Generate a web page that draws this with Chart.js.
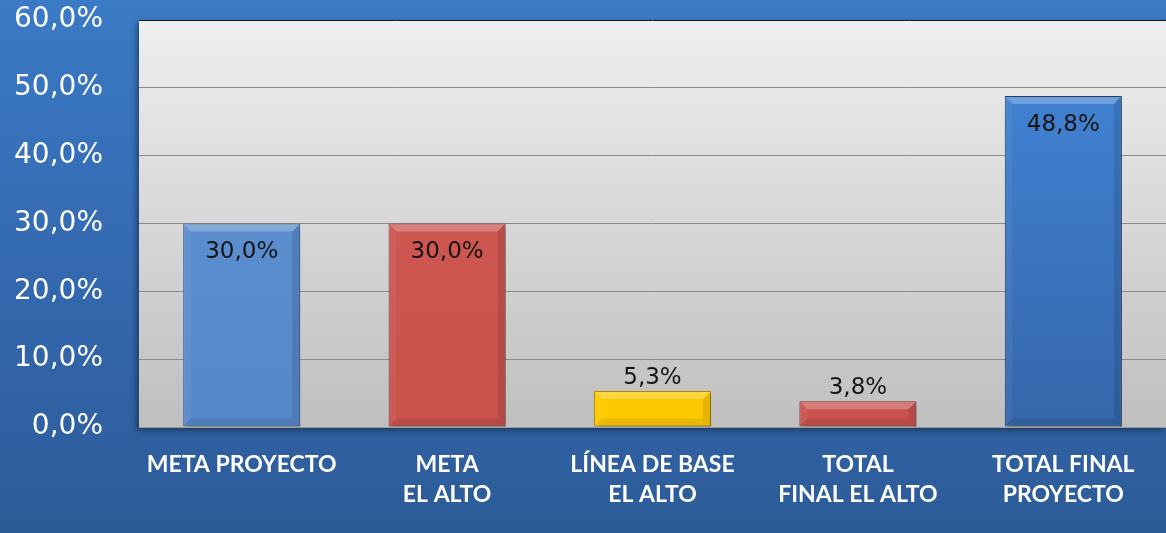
<!DOCTYPE html>
<html>
<head>
<meta charset="utf-8">
<script src="https://cdn.jsdelivr.net/npm/chart.js@4/dist/chart.umd.min.js"></script>
<style>
  html, body { margin: 0; padding: 0; }
  body {
    width: 1166px;
    height: 533px;
    overflow: hidden;
    background: linear-gradient(to bottom, #3b7ac5 0%, #3469b0 50%, #2d5b98 100%);
  }
  canvas { display: block; }
</style>
</head>
<body>
<canvas id="metaChart" width="1166" height="533"></canvas>
<script>
const categories = [
    'META PROYECTO',
    ['META', 'EL ALTO'],
    ['LÍNEA DE BASE', 'EL ALTO'],
    ['TOTAL', 'FINAL EL ALTO'],
    ['TOTAL FINAL', 'PROYECTO']
];
const values = [30.0, 30.0, 5.3, 3.8, 48.8];
const yTickValues = [0, 10, 20, 30, 40, 50, 60];

// fill / edge colour per bar
const barFills = [
    ['#6093d5', '#5588c9'],
    ['#d35b56', '#c9524d'],
    ['#ffd20f', '#fcc900'],
    ['#d35b56', '#c9524d'],
    ['#4387da', '#3566aa']
];
const barEdges = ['#3d6599', '#8f3532', '#b88f00', '#8f3532', '#1f3f6b'];

const pct = v => v.toFixed(1).replace('.', ',') + '%';

// grey plot background with a soft shadow, drawn before the grid
const plotBackground = {
    id: 'plotBackground',
    beforeDraw(chart) {
        const { ctx, chartArea: a } = chart;
        ctx.save();
        ctx.shadowColor = 'rgba(0,0,0,0.45)';
        ctx.shadowBlur = 6;
        ctx.shadowOffsetX = -2;
        ctx.shadowOffsetY = 3;
        const g = ctx.createLinearGradient(0, a.top, 0, a.bottom);
        g.addColorStop(0, '#efefef');
        g.addColorStop(1, '#bfbfbf');
        ctx.fillStyle = g;
        ctx.fillRect(a.left, a.top, a.right - a.left, a.bottom - a.top);
        ctx.restore();
    }
};

// bevelled edges and drop shadow on each bar, then value labels
const barDecor = {
    id: 'barDecor',
    beforeDatasetDraw(chart) {
        const ctx = chart.ctx;
        ctx.save();
        ctx.shadowColor = 'rgba(0,0,0,0.35)';
        ctx.shadowBlur = 5;
        ctx.shadowOffsetX = 3;
        ctx.shadowOffsetY = 2;
    },
    afterDatasetDraw(chart) {
        chart.ctx.restore();
    },
    afterDatasetsDraw(chart) {
        const ctx = chart.ctx;
        const meta = chart.getDatasetMeta(0);
        meta.data.forEach((bar, i) => {
            const { x, y, base, width } = bar.getProps(['x', 'y', 'base', 'width'], true);
            const l = x - width / 2 + 1, r = x + width / 2 - 1;
            const t = y + 1, b = base - 1;
            const s = 7;
            const quad = (pts, fill) => {
                ctx.beginPath();
                ctx.moveTo(pts[0][0], pts[0][1]);
                pts.slice(1).forEach(p => ctx.lineTo(p[0], p[1]));
                ctx.closePath();
                ctx.fillStyle = fill;
                ctx.fill();
            };
            ctx.save();
            quad([[l, t], [r, t], [r - s, t + s], [l + s, t + s]], 'rgba(255,255,255,0.25)');
            quad([[l, b], [r, b], [r - s, b - s], [l + s, b - s]], 'rgba(0,0,0,0.08)');
            quad([[l, t], [l + s, t + s], [l + s, b - s], [l, b]], 'rgba(255,255,255,0.05)');
            quad([[r, t], [r - s, t + s], [r - s, b - s], [r, b]], 'rgba(0,0,0,0.10)');

            ctx.font = '23px "DejaVu Sans", Verdana, sans-serif';
            ctx.fillStyle = '#151515';
            ctx.textAlign = 'center';
            ctx.textBaseline = 'middle';
            const inside = values[i] >= 10;
            ctx.fillText(pct(values[i]), x, inside ? y + 29 : y - 13);
            ctx.restore();
        });
    }
};

const ctx = document.getElementById('metaChart');
new Chart(ctx, {
    type: 'bar',
    data: {
        labels: categories,
        datasets: [{
            data: values,
            backgroundColor: c => {
                const a = c.chart.chartArea;
                if (!a) return barFills[c.dataIndex][0];
                const g = c.chart.ctx.createLinearGradient(0, a.top, 0, a.bottom);
                g.addColorStop(0, barFills[c.dataIndex][0]);
                g.addColorStop(1, barFills[c.dataIndex][1]);
                return g;
            },
            borderColor: barEdges,
            borderWidth: 1,
            borderSkipped: false,
            barPercentage: 0.57,
            categoryPercentage: 1.0
        }]
    },
    options: {
        responsive: false,
        animation: false,
        layout: { padding: { top: 20, right: 0, left: 0, bottom: 0 } },
        plugins: {
            legend: { display: false },
            tooltip: { enabled: false }
        },
        scales: {
            x: {
                grid: { display: false, drawTicks: false },
                border: { display: true, color: '#9c9c9c' },
                ticks: {
                    color: '#ffffff',
                    padding: 23,
                    maxRotation: 0,
                    autoSkip: false,
                    font: { family: 'Lato, "Liberation Sans", sans-serif', size: 23, weight: 'bold', lineHeight: 1.28 }
                },
                afterFit(scale) {
                    scale.height = 106;
                    scale.paddingLeft = 0;
                    scale.paddingRight = 0;
                }
            },
            y: {
                min: 0,
                max: 60,
                afterBuildTicks(scale) {
                    scale.ticks = yTickValues.map(v => ({ value: v }));
                },
                grid: {
                    drawTicks: false,
                    color: c => c.tick && c.tick.value === 60 ? '#1a1a1a' : '#8a8a8a',
                    lineWidth: 1
                },
                border: { display: false },
                ticks: {
                    color: '#ffffff',
                    padding: 36,
                    font: { family: '"DejaVu Sans", Verdana, sans-serif', size: 28 },
                    callback: v => pct(v)
                },
                afterFit(scale) {
                    scale.width = 139;
                    scale.paddingTop = 0;
                    scale.paddingBottom = 0;
                }
            }
        }
    },
    plugins: [plotBackground, barDecor]
});
</script>
</body>
</html>
